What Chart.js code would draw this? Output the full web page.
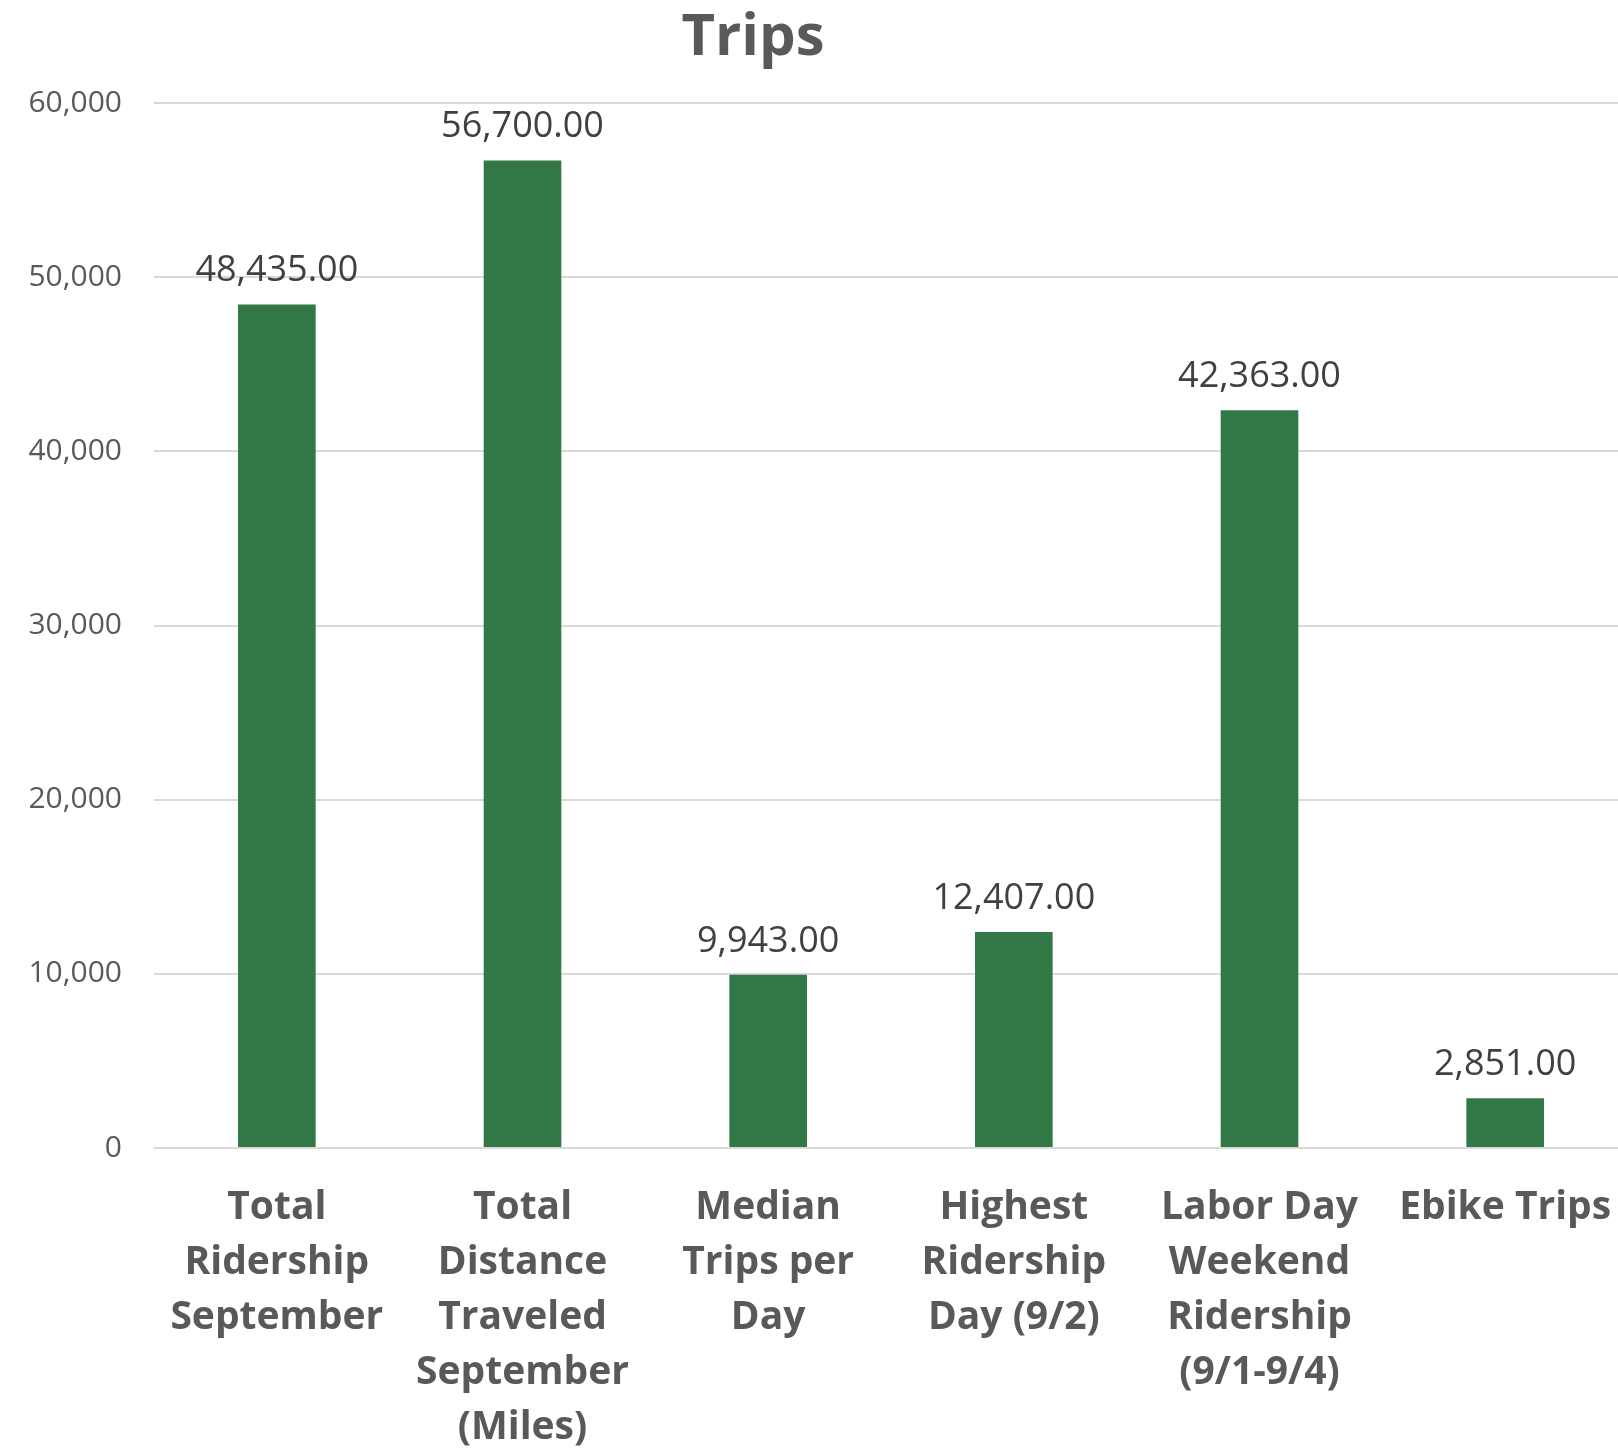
<!DOCTYPE html>
<html>
<head>
<meta charset="utf-8">
<script src="https://cdn.jsdelivr.net/npm/chart.js@4/dist/chart.umd.min.js"></script>
<style>
  html, body { margin: 0; padding: 0; background: #ffffff; overflow: hidden; }
  #wrap { width: 1628px; height: 1452px; }
</style>
</head>
<body>
<div id="wrap"><canvas id="c" width="1628" height="1452"></canvas></div>
<script>
const chartTitle = "Trips";
const categories = [
  ["Total", "Ridership", "September"],
  ["Total", "Distance", "Traveled", "September", "(Miles)"],
  ["Median", "Trips per", "Day"],
  ["Highest", "Ridership", "Day (9/2)"],
  ["Labor Day", "Weekend", "Ridership", "(9/1-9/4)"],
  ["Ebike Trips"]
];
const tripValues = [48435, 56700, 9943, 12407, 42363, 2851];
const yTicks = [0, 10000, 20000, 30000, 40000, 50000, 60000];

const FONT = "'Open Sans', 'Liberation Sans', sans-serif";

const titlePlugin = {
  id: 'customTitle',
  afterDraw(chart) {
    const ctx = chart.ctx;
    ctx.save();
    ctx.font = "bold 58px " + FONT;
    ctx.fillStyle = '#595959';
    ctx.textAlign = 'center';
    ctx.textBaseline = 'alphabetic';
    ctx.fillText(chartTitle, 753, 55);
    ctx.restore();
  }
};

const valueLabelPlugin = {
  id: 'valueLabels',
  afterDatasetsDraw(chart) {
    const ctx = chart.ctx;
    const meta = chart.getDatasetMeta(0);
    ctx.save();
    ctx.font = "36px " + FONT;
    ctx.fillStyle = '#404040';
    ctx.textAlign = 'center';
    ctx.textBaseline = 'alphabetic';
    meta.data.forEach((bar, i) => {
      const v = chart.data.datasets[0].data[i];
      const txt = v.toLocaleString('en-US', { minimumFractionDigits: 2, maximumFractionDigits: 2 });
      ctx.fillText(txt, bar.x, bar.y - 23);
    });
    ctx.restore();
  }
};

new Chart(document.getElementById('c'), {
  type: 'bar',
  data: {
    labels: categories,
    datasets: [{
      label: chartTitle,
      data: tripValues,
      backgroundColor: '#327847',
      borderWidth: 0,
      categoryPercentage: 1.0,
      barPercentage: 0.316
    }]
  },
  options: {
    responsive: false,
    animation: false,
    devicePixelRatio: 1,
    layout: { padding: { top: 103, left: 0, right: 0, bottom: 0 } },
    plugins: {
      legend: { display: false },
      title: { display: false },
      tooltip: { enabled: false }
    },
    scales: {
      x: {
        grid: { display: true, drawOnChartArea: false, drawTicks: true, tickLength: 32, color: 'rgba(0,0,0,0)' },
        border: { display: false },
        ticks: {
          color: '#595959',
          font: { family: FONT, size: 39, weight: 'bold', lineHeight: 1.41 },
          padding: 0,
          maxRotation: 0,
          minRotation: 0,
          autoSkip: false
        },
        afterFit(scale) { scale.height = 304; }
      },
      y: {
        min: 0,
        max: 60000,
        afterBuildTicks(scale) { scale.ticks = yTicks.map(v => ({ value: v })); },
        grid: { color: '#d9d9d9', lineWidth: 2, drawTicks: false },
        border: { display: false },
        ticks: {
          color: '#595959',
          font: { family: FONT, size: 30 },
          padding: 32,
          callback: (v) => v.toLocaleString('en-US')
        },
        afterFit(scale) { scale.width = 154; }
      }
    }
  },
  plugins: [titlePlugin, valueLabelPlugin]
});
</script>
</body>
</html>
